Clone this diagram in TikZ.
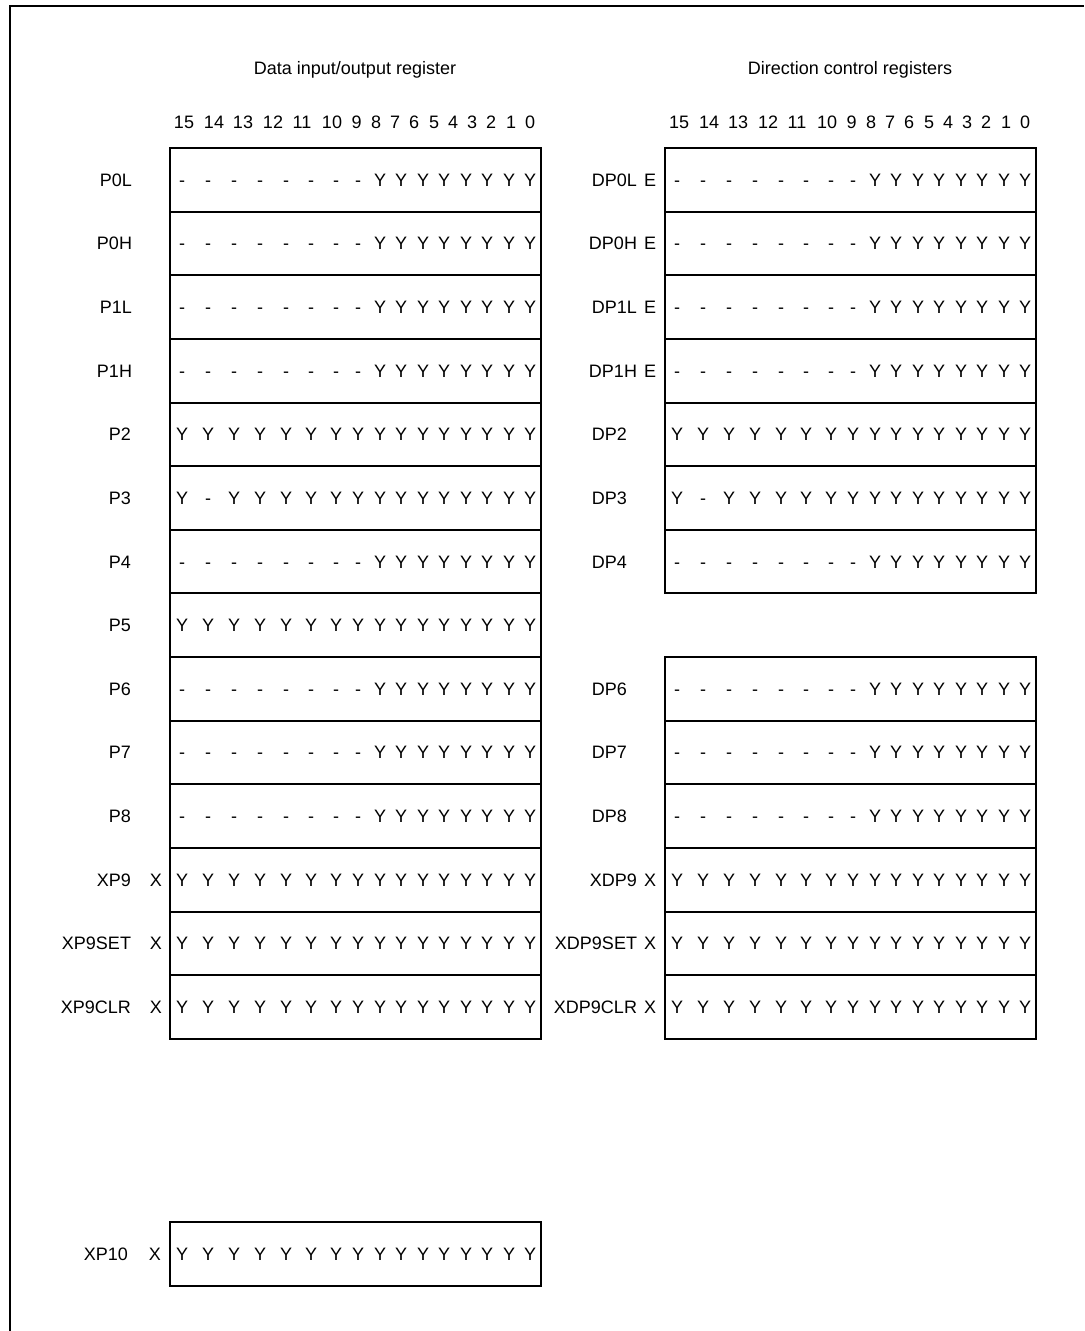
\documentclass[tikz,border=0pt]{standalone}
\usepackage{fontspec}
\setmainfont{Liberation Sans}
\def\colx{{182,208,234,260,286,311,336,358,380,401,423,444,466,487,509,530}}
\def\hdrx{{184,214,243,273,302,332,356.5,376,395,414,434,453,472,491,511,530}}
\def\halfpat{-,-,-,-,-,-,-,-,Y,Y,Y,Y,Y,Y,Y,Y}
\def\fullpat{Y,Y,Y,Y,Y,Y,Y,Y,Y,Y,Y,Y,Y,Y,Y,Y}
\def\pthreepat{Y,-,Y,Y,Y,Y,Y,Y,Y,Y,Y,Y,Y,Y,Y,Y}
\newcommand\regrow[8]{%
  \pgfmathsetmacro\rtop{148+63.64*#3}%
  \pgfmathsetmacro\rbase{\rtop+31.82+6.4}%
  \node[regbox] (#1) at (#2,\rtop) {};
  \node[lab] (#1-name) at (#5,\rbase) {#4};
  \if\relax\detokenize{#6}\relax\else\node[sfx] (#1-sfx) at (#7,\rbase) {#6};\fi
  \foreach \c [count=\k from 0] in #8 {
    \pgfmathsetmacro\xx{\colx[\k]+#2-170}
    \node[bit] (#1-b\k) at (\xx,\rbase) {\c};
  }%
}
\begin{document}
\begin{tikzpicture}[x=0.5pt,y=-0.5pt,
  txt/.style={font=\fontsize{9}{11}\selectfont, inner sep=0pt, outer sep=0pt},
  bit/.style={txt, anchor=base},
  lab/.style={txt, anchor=base east},
  sfx/.style={txt, anchor=base},
  regbox/.style={draw, line width=1pt, minimum width=185.5pt, minimum height=31.82pt, inner sep=0pt, outer sep=0pt, anchor=north west},
  framel/.style={line width=1.1pt}]
\useasboundingbox (0,0) rectangle (1084,1331);
% frame
\coordinate (fbl) at (10,1331);
\coordinate (ftl) at (10,6);
\coordinate (ftr) at (1084,6);
\draw[framel] (fbl) -- (ftl) -- (ftr);
% titles
\node[txt, anchor=base] (tleft) at (355,74.4) {Data input/output register};
\node[txt, anchor=base] (tright) at (850,74.4) {Direction control registers};
% bit number headers
\foreach \n [count=\k from 0] in {15,14,13,12,11,10,9,8,7,6,5,4,3,2,1,0} {
  \pgfmathsetmacro\hx{\hdrx[\k]}
  \node[bit] (hl\k) at (\hx,128.4) {\n};
  \pgfmathsetmacro\hxr{\hdrx[\k]+495}
  \node[bit] (hr\k) at (\hxr,128.4) {\n};
}
% left registers
\regrow{L0}{170}{0}{P0L}{132}{}{0}{\halfpat}
\regrow{L1}{170}{1}{P0H}{132}{}{0}{\halfpat}
\regrow{L2}{170}{2}{P1L}{132}{}{0}{\halfpat}
\regrow{L3}{170}{3}{P1H}{132}{}{0}{\halfpat}
\regrow{L4}{170}{4}{P2}{131}{}{0}{\fullpat}
\regrow{L5}{170}{5}{P3}{131}{}{0}{\pthreepat}
\regrow{L6}{170}{6}{P4}{131}{}{0}{\halfpat}
\regrow{L7}{170}{7}{P5}{131}{}{0}{\fullpat}
\regrow{L8}{170}{8}{P6}{131}{}{0}{\halfpat}
\regrow{L9}{170}{9}{P7}{131}{}{0}{\halfpat}
\regrow{L10}{170}{10}{P8}{131}{}{0}{\halfpat}
\regrow{L11}{170}{11}{XP9}{131}{X}{156}{\fullpat}
\regrow{L12}{170}{12}{XP9SET}{131}{X}{156}{\fullpat}
\regrow{L13}{170}{13}{XP9CLR}{131}{X}{156}{\fullpat}
\regrow{L16}{170}{16.876}{XP10}{128}{X}{155}{\fullpat}
% right registers
\regrow{R0}{665}{0}{DP0L}{637}{E}{650}{\halfpat}
\regrow{R1}{665}{1}{DP0H}{637}{E}{650}{\halfpat}
\regrow{R2}{665}{2}{DP1L}{637}{E}{650}{\halfpat}
\regrow{R3}{665}{3}{DP1H}{637}{E}{650}{\halfpat}
\regrow{R4}{665}{4}{DP2}{627}{}{0}{\fullpat}
\regrow{R5}{665}{5}{DP3}{627}{}{0}{\pthreepat}
\regrow{R6}{665}{6}{DP4}{627}{}{0}{\halfpat}
\regrow{R8}{665}{8}{DP6}{627}{}{0}{\halfpat}
\regrow{R9}{665}{9}{DP7}{627}{}{0}{\halfpat}
\regrow{R10}{665}{10}{DP8}{627}{}{0}{\halfpat}
\regrow{R11}{665}{11}{XDP9}{637}{X}{650}{\fullpat}
\regrow{R12}{665}{12}{XDP9SET}{637}{X}{650}{\fullpat}
\regrow{R13}{665}{13}{XDP9CLR}{637}{X}{650}{\fullpat}
\end{tikzpicture}
\end{document}
